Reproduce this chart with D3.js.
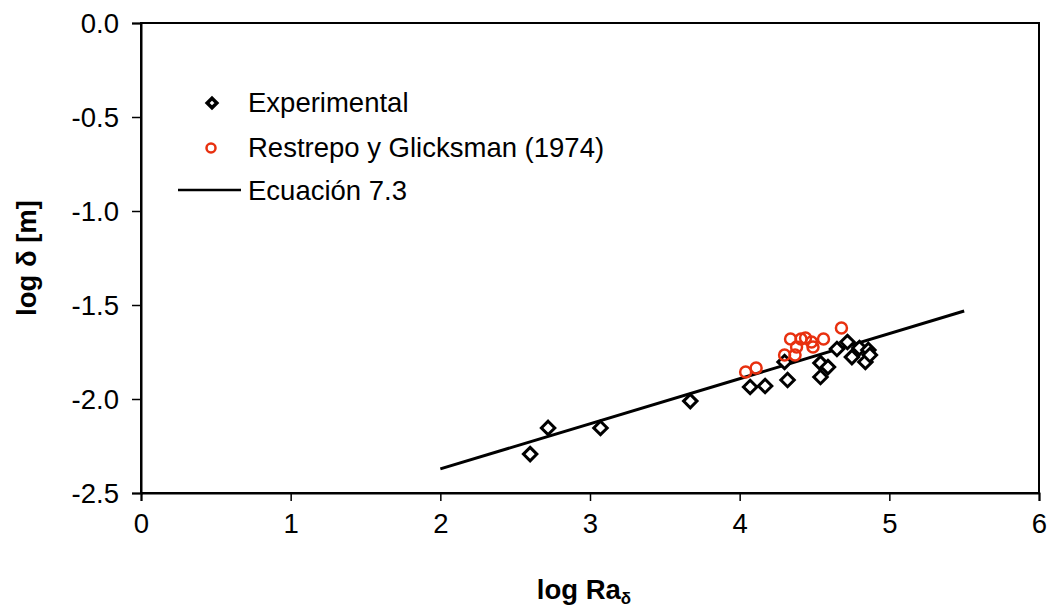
<!DOCTYPE html>
<html><head><meta charset="utf-8">
<script src="https://cdn.jsdelivr.net/npm/d3@7"></script>
<style>body{margin:0;background:#fff;}svg{display:block;font-family:"Liberation Sans",Arial,sans-serif;}</style>
</head><body>
<svg id="c" width="1054" height="608"></svg>
<script>
const xTicks = [0, 1, 2, 3, 4, 5, 6];
const yTicks = [0.0, -0.5, -1.0, -1.5, -2.0, -2.5];
const expX = [2.60, 2.72, 3.07, 3.67, 4.07, 4.17, 4.30, 4.32, 4.54, 4.54, 4.59, 4.65, 4.72, 4.75, 4.80, 4.84, 4.86, 4.87];
const expY = [-2.293, -2.154, -2.154, -2.011, -1.936, -1.931, -1.803, -1.899, -1.809, -1.883, -1.830, -1.734, -1.697, -1.777, -1.729, -1.803, -1.739, -1.766];
const resX = [4.04, 4.11, 4.30, 4.34, 4.37, 4.38, 4.41, 4.44, 4.48, 4.49, 4.56, 4.68];
const resY = [-1.856, -1.835, -1.766, -1.681, -1.766, -1.723, -1.681, -1.676, -1.697, -1.723, -1.681, -1.622];
const eqX = [2.0, 5.5];
const eqY = [-2.372, -1.532];
const legendLabels = ["Experimental", "Restrepo y Glicksman (1974)", "Ecuación 7.3"];

const svg = d3.select("#c");
const L = 141, R = 1039, T = 23, B = 493;
const x = d3.scaleLinear().domain([0, 6]).range([L, R]);
const y = d3.scaleLinear().domain([-2.5, 0]).range([B, T]);
const red = "#e8300f";
const FS = 27.5;

// frame
svg.append("rect").attr("x", L).attr("y", T).attr("width", R - L).attr("height", B - T)
  .attr("fill", "none").attr("stroke", "#000").attr("stroke-width", 2);

const fmtY = d => d3.format(".1f")(d).replace("\u2212", "-");
const xAxis = svg.append("g").attr("transform", `translate(0,${B})`)
  .call(d3.axisBottom(x).tickValues(xTicks).tickFormat(d3.format("d")).tickSize(8).tickPadding(12));
const yAxis = svg.append("g").attr("transform", `translate(${L},0)`)
  .call(d3.axisLeft(y).tickValues(yTicks).tickFormat(fmtY).tickSize(9).tickPadding(13));
[xAxis, yAxis].forEach(g => {
  g.select(".domain").attr("stroke", "#000").attr("stroke-width", 2);
  g.selectAll(".tick line").attr("stroke", "#000").attr("stroke-width", 1.5);
  g.selectAll(".tick text").attr("font-size", FS).attr("fill", "#000")
    .attr("font-family", "'Liberation Sans',Arial,sans-serif");
});
yAxis.selectAll(".tick text").attr("dy", "0.35em");

// equation line
const line = d3.line().x(d => x(d[0])).y(d => y(d[1]));
svg.append("path").datum(d3.zip(eqX, eqY)).attr("d", line)
  .attr("fill", "none").attr("stroke", "#000").attr("stroke-width", 3);

// experimental diamonds
const dsym = d3.symbol().type(d3.symbolDiamond2).size(115);
svg.append("g").selectAll("path").data(d3.zip(expX, expY)).join("path")
  .attr("d", dsym).attr("transform", d => `translate(${x(d[0])},${y(d[1])})`)
  .attr("fill", "#fff").attr("stroke", "#000").attr("stroke-width", 3);

// Restrepo circles
svg.append("g").selectAll("circle").data(d3.zip(resX, resY)).join("circle")
  .attr("cx", d => x(d[0])).attr("cy", d => y(d[1])).attr("r", 5.5)
  .attr("fill", "none").attr("stroke", red).attr("stroke-width", 2.5);

// legend
const lg = svg.append("g").attr("font-size", FS).attr("fill", "#000");
lg.append("path").attr("d", d3.symbol().type(d3.symbolDiamond2).size(60)())
  .attr("transform", "translate(212,103)").attr("fill", "#fff").attr("stroke", "#000").attr("stroke-width", 3.5);
lg.append("circle").attr("cx", 211).attr("cy", 148).attr("r", 4.5)
  .attr("fill", "none").attr("stroke", red).attr("stroke-width", 2.5);
lg.append("line").attr("x1", 178).attr("x2", 241).attr("y1", 190).attr("y2", 190)
  .attr("stroke", "#000").attr("stroke-width", 2.5);
[102, 147, 190].forEach((yy, i) => {
  lg.append("text").attr("x", 248).attr("y", yy).attr("dy", "0.35em").text(legendLabels[i]);
});

// axis titles
const xt = svg.append("text").attr("x", 584).attr("y", 599).attr("text-anchor", "middle")
  .attr("font-size", FS).attr("font-weight", "bold");
xt.append("tspan").text("log Ra");
xt.append("tspan").attr("font-size", 17).attr("dy", 5).text("δ");
svg.append("text").attr("transform", "translate(36,258) rotate(-90)").attr("text-anchor", "middle")
  .attr("font-size", FS).attr("font-weight", "bold").text("log δ [m]");
</script>
</body></html>
